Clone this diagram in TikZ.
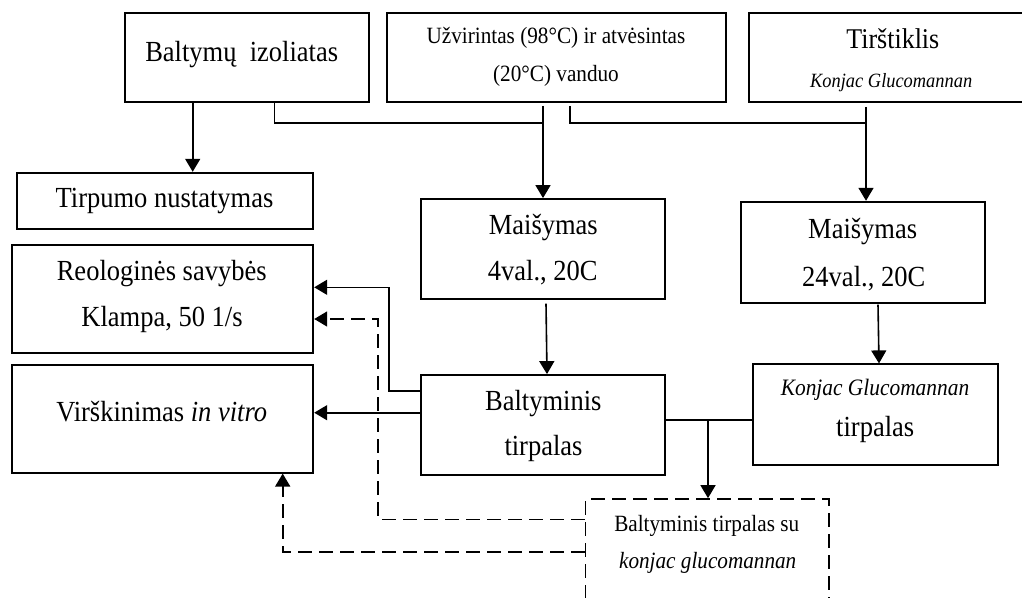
\documentclass[tikz,border=0pt]{standalone}
\usepackage{graphicx}
\usepackage{fontspec}
\setmainfont{Liberation Serif}
\usetikzlibrary{arrows.meta}
\newcommand\vst[1]{\scalebox{1}[1.1]{#1}}
\begin{document}
\begin{tikzpicture}[x=1pt,y=-1pt,
  box/.style={draw, line width=1.8pt, rectangle, inner sep=0pt, fill=white},
  dbox/.style={draw, line width=1.7pt, rectangle, inner sep=0pt, dash pattern=on 14pt off 7pt},
  lbl/.style={anchor=base, inner sep=0pt, font=\fontsize{26.5}{30}\selectfont},
  mlbl/.style={anchor=base, inner sep=0pt, font=\fontsize{21.2}{25}\selectfont},
  conn/.style={line width=1.6pt},
  arr/.style={line width=1.6pt, -{Triangle[width=15pt,length=13pt]}},
  darr/.style={line width=1.6pt, dash pattern=on 14pt off 7pt, -{Triangle[width=15pt,length=13pt]}}
]
\clip (0,0) rectangle (1022,597);
\fill[white] (0,0) rectangle (1022,597);

% boxes
\node[box, minimum width=244.3pt, minimum height=89.6pt] (bIso) at (247.2,57.5) {};
\node[box, minimum width=339pt, minimum height=89.6pt] (water) at (556.2,57.5) {};
\node[box, minimum width=285.7pt, minimum height=89.6pt] (tirst) at (892.2,57.5) {};
\node[box, minimum width=296pt, minimum height=56.6pt] (tirpumo) at (165.3,201) {};
\node[box, minimum width=244pt, minimum height=99.7pt] (mais4) at (543,248.85) {};
\node[box, minimum width=244.3pt, minimum height=101pt] (mais24) at (863.15,252.2) {};
\node[box, minimum width=301.6pt, minimum height=107.7pt] (reol) at (162.5,298.85) {};
\node[box, minimum width=301.6pt, minimum height=107.7pt] (virsk) at (162.5,418.85) {};
\node[box, minimum width=244pt, minimum height=100pt] (balt) at (543,425) {};
\node[box, minimum width=244.6pt, minimum height=100.7pt] (kgt) at (875.3,414.65) {};
\node[dbox, minimum width=243.5pt, minimum height=141pt] (mix) at (707.25,569.5) {};

% texts
\node[lbl] (tBIso) at (241.7,61) {\vst{Baltymų\ \ izoliatas}};
\node[mlbl] (tW1) at (556,43.3) {\vst{Užvirintas (98°C) ir atvėsintas}};
\node[mlbl] (tW2) at (556,81.7) {\vst{(20°C) vanduo}};
\node[lbl, font=\fontsize{26}{30}\selectfont] (tT1) at (892.8,48.3) {\vst{Tirštiklis}};
\node[anchor=base, inner sep=0pt, font=\fontsize{18.4}{22}\selectfont\itshape] (tT2) at (891.2,87.3) {\vst{Konjac Glucomannan}};
\node[lbl] (tTirp) at (164.5,207) {\vst{Tirpumo nustatymas}};
\node[lbl] (tM41) at (543.3,234) {\vst{Maišymas}};
\node[lbl] (tM42) at (542.7,280) {\vst{4val., 20C}};
\node[lbl] (tM241) at (862.7,238.3) {\vst{Maišymas}};
\node[lbl] (tM242) at (863.7,286) {\vst{24val., 20C}};
\node[lbl] (tR1) at (161.7,280.7) {\vst{Reologinės savybės}};
\node[lbl] (tR2) at (162,326) {\vst{Klampa, 50 1/s}};
\node[lbl] (tV) at (161.7,421.7) {\vst{Virškinimas \textit{in vitro}}};
\node[lbl] (tB1) at (543.3,410) {\vst{Baltyminis}};
\node[lbl] (tB2) at (543.5,455) {\vst{tirpalas}};
\node[anchor=base, inner sep=0pt, font=\fontsize{21.4}{25}\selectfont\itshape] (tK1) at (875,395) {\vst{Konjac Glucomannan}};
\node[lbl] (tK2) at (875.2,436.7) {\vst{tirpalas}};
\node[mlbl] (tX1) at (706.7,531.7) {\vst{Baltyminis tirpalas su}};
\node[mlbl, font=\fontsize{21.2}{25}\selectfont\itshape] (tX2) at (707.7,568.3) {\vst{konjac glucomannan}};

% junction points
\coordinate (jL) at (543,122.7);
\coordinate (jR) at (866,122.7);
\coordinate (jM) at (708,420);

% connectors
\draw[arr] (bIso.south -| 192.7,0) -- (tirpumo.north -| 192.7,0);
\draw[conn] (bIso.south -| 274.3,0) |- (jL);
\draw[arr] ([yshift=-2.7pt]water.south -| jL) -- (mais4.north -| jL);
\draw[conn] ([yshift=-2.7pt]water.south -| 570,0) |- (jR);
\draw[arr] ([yshift=-3.7pt]tirst.south -| jR) -- (mais24.north -| jR);
\draw[arr] ([yshift=-4pt]mais4.south -| 546,0) -- (balt.north -| 547,0);
\draw[arr] ([yshift=-1pt]mais24.south -| 878,0) -- (kgt.north -| 879,0);
\draw[arr] (balt.west |- 0,390.7) -- (389,390.7) |- (reol.east |- 0,287.3);
\draw[arr] (balt.west |- 0,412.7) -- (virsk.east |- 0,412.7);
\draw[conn] (balt.east |- jM) -- (kgt.west |- jM);
\draw[arr] (jM) -- (mix.north -| jM);
\draw[darr] (mix.west |- 0,519.3) -- (378,519.3) |- (reol.east |- 0,319);
\draw[darr] (mix.west |- 0,551.7) -| (virsk.south -| 282.7,0);
\end{tikzpicture}
\end{document}
